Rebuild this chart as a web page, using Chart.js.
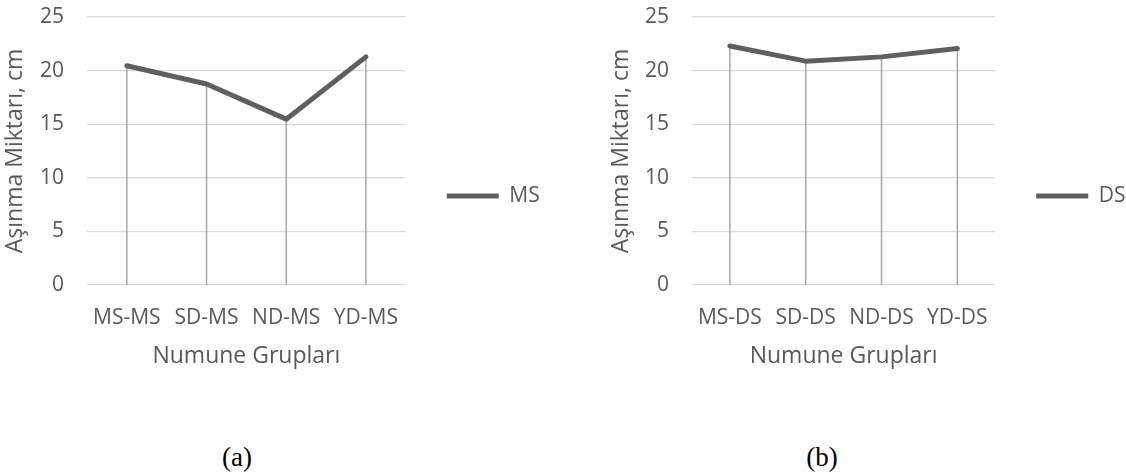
<!DOCTYPE html>
<html><head><meta charset="utf-8">
<script src="https://cdn.jsdelivr.net/npm/chart.js@4.4.0/dist/chart.umd.min.js"></script>
<style>
body{margin:0;background:#fff;width:1126px;height:474px;position:relative;overflow:hidden}
.wrap{position:absolute;top:0;height:380px}
.cap{position:absolute;font-family:"Liberation Serif","Times New Roman",serif;font-size:27px;color:#000;transform:translateX(-50%);line-height:30px}
</style></head><body>
<div class="wrap" style="left:0;width:560px"><canvas id="c1"></canvas></div>
<div class="wrap" style="left:560px;width:566px"><canvas id="c2"></canvas></div>
<div class="cap" style="left:237px;top:442px">(a)</div>
<div class="cap" style="left:822px;top:442px">(b)</div>
<script>
const catsA = ['MS-MS', 'SD-MS', 'ND-MS', 'YD-MS'];
const valsA = [20.45, 18.75, 15.47, 21.28];
const catsB = ['MS-DS', 'SD-DS', 'ND-DS', 'YD-DS'];
const valsB = [22.3, 20.88, 21.28, 22.06];
const seriesA = 'MS';
const seriesB = 'DS';
const yTicks = [0, 5, 10, 15, 20, 25];
const yTitle = 'Aşınma Miktarı, cm';
const xTitle = 'Numune Grupları';

const TXT = '#595959';
const FONT = '"Open Sans", "Noto Sans", sans-serif';

const dropLines = {
  id: 'dropLines',
  beforeDatasetsDraw(chart) {
    const ctx = chart.ctx;
    const y0 = chart.scales.y.getPixelForValue(0);
    ctx.save();
    ctx.strokeStyle = '#A6A6A6';
    ctx.lineWidth = 1.5;
    chart.getDatasetMeta(0).data.forEach(p => {
      ctx.beginPath();
      ctx.moveTo(p.x, p.y);
      ctx.lineTo(p.x, y0);
      ctx.stroke();
    });
    ctx.restore();
  }
};

function make(id, cats, vals, name, padL, padR, yWidth) {
  return new Chart(document.getElementById(id), {
    type: 'line',
    data: {
      labels: cats,
      datasets: [{
        label: name,
        data: vals,
        borderColor: '#5F5F5F',
        backgroundColor: '#5F5F5F',
        borderWidth: 5,
        borderCapStyle: 'round',
        borderJoinStyle: 'round',
        pointRadius: 0,
        tension: 0
      }]
    },
    plugins: [dropLines],
    options: {
      responsive: true,
      maintainAspectRatio: false,
      animation: false,
      layout: { padding: { left: padL, right: padR, top: 17, bottom: 5 } },
      plugins: {
        tooltip: { enabled: false },
        legend: {
          position: 'right',
          labels: {
            usePointStyle: true,
            pointStyle: 'line',
            pointStyleWidth: 52,
            padding: 41,
            color: TXT,
            font: { family: FONT, size: 21 }
          }
        }
      },
      scales: {
        x: {
          offset: true,
          afterFit(axis) { axis.height = 90; axis.paddingLeft = 0; axis.paddingRight = 0; },
          grid: { display: false, drawTicks: false },
          border: { display: false },
          ticks: { color: TXT, font: { family: FONT, size: 21 }, padding: 20, maxRotation: 0, autoSkip: false },
          title: { display: true, text: xTitle, color: TXT, font: { family: FONT, size: 23 }, padding: { top: 4, bottom: 5 } }
        },
        y: {
          min: 0, max: 25,
          afterBuildTicks(axis) { axis.ticks = yTicks.map(v => ({ value: v })); },
          afterFit(axis) { axis.width = yWidth; axis.paddingTop = 0; axis.paddingBottom = 0; },
          grid: { color: '#D9D9D9', lineWidth: 1.2, drawTicks: false },
          border: { display: false },
          ticks: { color: TXT, font: { family: FONT, size: 21 }, padding: 23 },
          title: { display: true, text: yTitle, color: TXT, font: { family: FONT, size: 23 }, padding: { top: 2, bottom: 4 } }
        }
      }
    }
  });
}
make('c1', catsA, valsA, seriesA, 0, 19, 87);
make('c2', catsB, valsB, seriesB, 46, 1, 86);
</script>
</body></html>
